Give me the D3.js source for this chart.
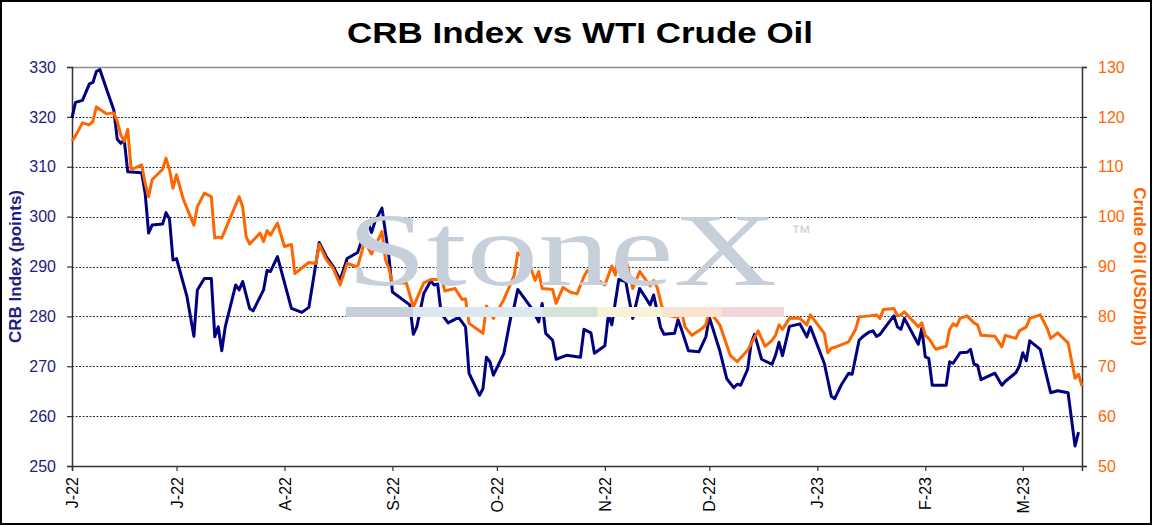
<!DOCTYPE html>
<html lang="en">
<head>
<meta charset="utf-8">
<title>CRB Index vs WTI Crude Oil</title>
<script src="https://cdnjs.cloudflare.com/ajax/libs/d3/7.8.5/d3.min.js"></script>
<style>
  body { margin: 0; background: #fff; }
  svg { display: block; font-family: "Liberation Sans", Arial, sans-serif; }
</style>
</head>
<body>
<div id="chart"></div>
<script>
  // CRB index (points)
  const crb = [
    ["2022-06-01",319.8],["2022-06-02",322.9],["2022-06-04",323.3],["2022-06-06",326.6],["2022-06-07",326.9],
    ["2022-06-08",329.1],["2022-06-09",329.5],["2022-06-11",325.4],["2022-06-13",321.4],["2022-06-14",315.5],
    ["2022-06-15",314.7],["2022-06-16",315.4],["2022-06-17",309.0],["2022-06-21",308.8],["2022-06-22",304.7],
    ["2022-06-23",296.7],["2022-06-24",298.3],["2022-06-27",298.5],["2022-06-28",300.8],["2022-06-29",299.5],
    ["2022-06-30",291.3],["2022-07-01",291.6],["2022-07-04",284.0],["2022-07-06",276.0],["2022-07-07",285.3],
    ["2022-07-09",287.6],["2022-07-11",287.6],["2022-07-12",275.9],["2022-07-13",277.9],["2022-07-14",273.1],
    ["2022-07-15",277.9],["2022-07-18",286.3],["2022-07-19",285.3],["2022-07-20",287.0],["2022-07-22",281.6],
    ["2022-07-23",281.1],["2022-07-26",285.3],["2022-07-27",289.2],["2022-07-28",289.0],["2022-07-30",292.0],
    ["2022-08-03",281.6],["2022-08-06",280.8],["2022-08-08",281.8],["2022-08-11",294.8],["2022-08-13",292.0],
    ["2022-08-15",290.0],["2022-08-17",287.3],["2022-08-19",291.6],["2022-08-22",292.8],["2022-08-25",298.8],
    ["2022-08-26",296.8],["2022-08-27",299.0],["2022-08-29",301.7],["2022-08-31",292.0],["2022-09-01",284.9],
    ["2022-09-06",282.3],["2022-09-07",276.4],["2022-09-08",277.9],["2022-09-10",284.6],["2022-09-12",287.1],
    ["2022-09-13",286.3],["2022-09-14",286.5],["2022-09-15",280.6],["2022-09-17",278.7],["2022-09-20",279.8],
    ["2022-09-22",277.9],["2022-09-23",268.6],["2022-09-26",264.2],["2022-09-27",265.5],["2022-09-28",271.8],
    ["2022-09-29",270.9],["2022-09-30",268.2],["2022-10-03",272.6],["2022-10-05",279.9],["2022-10-06",282.1],
    ["2022-10-07",285.4],["2022-10-11",281.6],["2022-10-13",278.9],["2022-10-14",282.6],["2022-10-15",276.6],
    ["2022-10-17",275.2],["2022-10-18",271.4],["2022-10-21",272.2],["2022-10-25",271.8],["2022-10-26",277.4],
    ["2022-10-28",276.7],["2022-10-29",272.6],["2022-11-01",274.1],["2022-11-02",280.3],["2022-11-03",278.3],
    ["2022-11-05",287.4],["2022-11-07",287.0],["2022-11-09",279.6],["2022-11-11",285.6],["2022-11-14",282.3],
    ["2022-11-15",284.3],["2022-11-17",277.8],["2022-11-18",276.4],["2022-11-21",276.6],["2022-11-22",279.3],
    ["2022-11-23",277.4],["2022-11-25",273.1],["2022-11-28",272.9],["2022-11-30",275.9],["2022-12-01",279.8],
    ["2022-12-04",273.1],["2022-12-06",267.5],["2022-12-08",265.7],["2022-12-09",266.4],["2022-12-10",266.2],
    ["2022-12-12",269.4],["2022-12-13",274.6],["2022-12-14",276.4],["2022-12-16",271.4],["2022-12-19",270.4],
    ["2022-12-20",272.2],["2022-12-21",274.8],["2022-12-22",272.1],["2022-12-24",278.0],["2022-12-27",278.5],
    ["2022-12-29",275.9],["2022-12-30",277.9],["2023-01-03",270.6],["2023-01-05",264.0],["2023-01-06",263.5],
    ["2023-01-08",266.4],["2023-01-10",268.6],["2023-01-11",268.4],["2023-01-13",275.2],["2023-01-14",275.9],
    ["2023-01-16",276.9],["2023-01-17",277.1],["2023-01-18",276.0],["2023-01-19",276.4],["2023-01-21",278.3],
    ["2023-01-23",280.1],["2023-01-24",277.9],["2023-01-25",277.4],["2023-01-26",279.6],["2023-01-30",274.4],
    ["2023-01-31",277.6],["2023-02-01",271.9],["2023-02-02",271.6],["2023-02-03",266.2],["2023-02-07",266.2],
    ["2023-02-08",270.9],["2023-02-09",270.6],["2023-02-11",272.7],["2023-02-13",272.8],["2023-02-14",273.4],
    ["2023-02-15",270.4],["2023-02-16",270.2],["2023-02-17",267.3],["2023-02-21",268.6],["2023-02-23",266.2],
    ["2023-02-24",267.0],["2023-02-27",268.7],["2023-02-28",270.0],["2023-03-01",272.7],["2023-03-02",271.1],
    ["2023-03-03",275.1],["2023-03-06",273.4],["2023-03-09",264.7],["2023-03-11",265.1],["2023-03-14",264.7],
    ["2023-03-16",254.0],["2023-03-17",256.8]
  ];

  // WTI crude (USD/bbl)
  const oil = [
    ["2022-06-01",115.1],["2022-06-02",116.2],["2022-06-04",118.8],["2022-06-06",118.4],["2022-06-07",119.1],
    ["2022-06-08",122.0],["2022-06-11",120.6],["2022-06-13",120.8],["2022-06-14",119.1],["2022-06-15",116.4],
    ["2022-06-16",115.1],["2022-06-17",117.5],["2022-06-18",109.4],["2022-06-21",110.4],["2022-06-22",106.7],
    ["2022-06-23",104.0],["2022-06-24",107.4],["2022-06-27",109.5],["2022-06-28",111.7],["2022-06-29",109.4],
    ["2022-06-30",105.7],["2022-07-01",108.4],["2022-07-03",103.4],["2022-07-06",98.3],["2022-07-07",102.0],
    ["2022-07-09",104.7],["2022-07-11",104.0],["2022-07-12",95.7],["2022-07-13",95.9],["2022-07-14",95.7],
    ["2022-07-19",104.0],["2022-07-20",102.0],["2022-07-21",96.0],["2022-07-22",94.5],["2022-07-25",96.7],
    ["2022-07-26",95.0],["2022-07-27",97.2],["2022-07-28",96.3],["2022-07-30",98.7],["2022-08-01",94.0],
    ["2022-08-03",94.4],["2022-08-04",88.6],["2022-08-08",90.8],["2022-08-10",90.6],["2022-08-11",94.4],
    ["2022-08-13",91.4],["2022-08-15",89.6],["2022-08-17",86.3],["2022-08-19",90.6],["2022-08-22",89.9],
    ["2022-08-24",95.0],["2022-08-26",92.5],["2022-08-29",97.0],["2022-08-30",91.4],["2022-08-31",89.6],
    ["2022-09-01",86.7],["2022-09-05",86.7],["2022-09-07",81.9],["2022-09-10",86.7],["2022-09-12",87.4],
    ["2022-09-14",87.4],["2022-09-15",88.3],["2022-09-16",85.1],["2022-09-19",85.6],["2022-09-21",83.4],
    ["2022-09-22",83.5],["2022-09-23",78.6],["2022-09-27",76.6],["2022-09-28",82.1],["2022-09-30",79.6],
    ["2022-10-03",83.4],["2022-10-05",86.6],["2022-10-06",88.3],["2022-10-07",92.7],["2022-10-10",91.0],
    ["2022-10-12",87.2],["2022-10-13",89.0],["2022-10-14",85.6],["2022-10-17",85.4],["2022-10-18",82.6],
    ["2022-10-20",85.8],["2022-10-22",84.9],["2022-10-24",84.5],["2022-10-26",88.0],["2022-10-27",89.2],
    ["2022-10-29",87.8],["2022-11-01",86.3],["2022-11-03",90.1],["2022-11-04",88.3],["2022-11-05",92.8],
    ["2022-11-07",91.6],["2022-11-09",85.6],["2022-11-11",89.0],["2022-11-14",86.1],["2022-11-15",87.2],
    ["2022-11-16",85.8],["2022-11-18",80.3],["2022-11-22",79.8],["2022-11-23",81.1],["2022-11-24",77.9],
    ["2022-11-26",76.2],["2022-11-29",77.6],["2022-11-30",78.3],["2022-12-01",81.1],["2022-12-04",78.3],
    ["2022-12-07",72.2],["2022-12-09",70.9],["2022-12-12",73.2],["2022-12-15",77.1],["2022-12-17",74.0],
    ["2022-12-19",75.2],["2022-12-20",76.2],["2022-12-21",78.3],["2022-12-22",77.4],["2022-12-24",79.6],
    ["2022-12-27",79.6],["2022-12-29",78.3],["2022-12-30",80.3],["2023-01-03",76.6],["2023-01-04",72.7],
    ["2023-01-05",73.6],["2023-01-06",73.8],["2023-01-10",74.9],["2023-01-12",77.4],["2023-01-13",79.9],
    ["2023-01-16",80.1],["2023-01-18",80.3],["2023-01-19",79.6],["2023-01-20",81.4],["2023-01-23",81.6],
    ["2023-01-24",80.1],["2023-01-25",80.3],["2023-01-26",80.9],["2023-01-28",79.4],["2023-01-30",77.9],
    ["2023-01-31",78.7],["2023-02-01",76.2],["2023-02-02",75.6],["2023-02-04",73.4],["2023-02-07",74.0],
    ["2023-02-08",77.4],["2023-02-09",78.5],["2023-02-10",78.1],["2023-02-11",79.6],["2023-02-13",80.1],
    ["2023-02-15",78.7],["2023-02-16",78.3],["2023-02-17",76.2],["2023-02-21",76.0],["2023-02-23",73.9],
    ["2023-02-24",76.2],["2023-02-27",75.6],["2023-02-28",77.1],["2023-03-02",77.9],["2023-03-03",79.6],
    ["2023-03-06",80.3],["2023-03-08",77.6],["2023-03-09",75.6],["2023-03-11",76.7],["2023-03-14",74.7],
    ["2023-03-16",67.6],["2023-03-17",68.4],["2023-03-18",66.0]
  ];

  const crbTicks = [250, 260, 270, 280, 290, 300, 310, 320, 330];
  const oilTicks = [50, 60, 70, 80, 90, 100, 110, 120, 130];
  const dateRange = ["2022-06-01", "2023-03-18"];

  const title = "CRB Index vs WTI Crude Oil";
  const leftTitle = "CRB Index (points)";
  const rightTitle = "Crude Oil (USD/bbl)";

  const width = 1157, height = 526;
  const margin = { top: 67, right: 75, bottom: 60, left: 72 };
  const chartWidth = width - margin.left - margin.right;
  const chartHeight = height - margin.top - margin.bottom;
  const navy = "#000080", orange = "#ff6600";
  const parse = d3.timeParse("%Y-%m-%d");

  let svg, x, yLeft, yRight, plot;

  function createSvg() {
    svg = d3.select("#chart").append("svg").attr("width", width).attr("height", height);
    svg.append("rect").attr("x", 1).attr("y", 1).attr("width", 1150).attr("height", 523)
      .attr("fill", "#fff").attr("stroke", "#000").attr("stroke-width", 2);
    plot = svg.append("g").attr("transform", `translate(${margin.left},${margin.top})`);
  }

  function createScales() {
    x = d3.scaleTime().domain(dateRange.map(parse)).range([0, chartWidth]);
    yLeft = d3.scaleLinear().domain([crbTicks[0], crbTicks[crbTicks.length - 1]]).range([chartHeight, 0]);
    yRight = d3.scaleLinear().domain([oilTicks[0], oilTicks[oilTicks.length - 1]]).range([chartHeight, 0]);
  }

  // StoneX watermark behind the plot
  function renderWatermark() {
    const wm = svg.append("g").attr("class", "watermark");
    const stripes = [
      [346, 413, "#c6cfda"], [413, 543, "#dce7f0"], [543, 597, "#d5e2d7"],
      [597, 663, "#f6f1d7"], [663, 722, "#f8e4cf"], [722, 784, "#f1d5d9"]
    ];
    wm.selectAll("rect").data(stripes).join("rect")
      .attr("x", d => d[0]).attr("y", 307).attr("width", d => d[1] - d[0]).attr("height", 10)
      .attr("fill", d => d[2]);
    wm.append("text").text("StoneX")
      .attr("x", 347).attr("y", 285)
      .attr("font-family", "'Liberation Serif', 'Times New Roman', serif")
      .attr("font-size", 103)
      .attr("textLength", 430).attr("lengthAdjust", "spacingAndGlyphs")
      .attr("fill", "#c6cfda");
    wm.append("text").text("\u2122")
      .attr("x", 791).attr("y", 239)
      .attr("font-size", 20)
      .attr("fill", "#c6cfda");
  }

  function renderGrid() {
    plot.append("g").selectAll("line")
      .data(crbTicks.slice(1, -1)).join("line")
      .attr("x1", 0).attr("x2", chartWidth)
      .attr("y1", d => Math.round(yLeft(d)) + 0.5).attr("y2", d => Math.round(yLeft(d)) + 0.5)
      .attr("stroke", "#333").attr("stroke-dasharray", "2,1.5").attr("stroke-width", 1);
    plot.append("line")
      .attr("x1", 0).attr("x2", chartWidth).attr("y1", 0.5).attr("y2", 0.5)
      .attr("stroke", "#8c8c8c").attr("stroke-width", 1.3);
  }

  function renderAxes() {
    const monthFmt = d3.timeFormat("%b"), yearFmt = d3.timeFormat("%y");

    const xAxis = d3.axisBottom(x).ticks(d3.timeMonth.every(1)).tickSize(5).tickFormat("");
    const gx = plot.append("g").attr("transform", `translate(0,${chartHeight})`).call(xAxis);
    gx.select(".domain").attr("stroke", "#333").attr("stroke-width", 1.5);
    gx.selectAll(".tick line").attr("stroke", "#333").attr("stroke-width", 1.2);
    gx.selectAll(".tick").append("text")
      .attr("transform", "translate(0,11) rotate(-90)")
      .attr("dy", "0.35em")
      .attr("text-anchor", "end")
      .attr("fill", "#000")
      .attr("font-size", 16)
      .text(d => monthFmt(d)[0] + "-" + yearFmt(d));

    const gl = plot.append("g").call(d3.axisLeft(yLeft).tickValues(crbTicks).tickSize(5).tickPadding(11));
    gl.select(".domain").attr("stroke", "#333").attr("stroke-width", 1.5);
    gl.selectAll(".tick line").attr("stroke", "#333").attr("stroke-width", 1.2);
    gl.selectAll(".tick text").attr("fill", "#1c1c8a").attr("font-size", 16).attr("font-family", null);

    const gr = plot.append("g").attr("transform", `translate(${chartWidth},0)`)
      .call(d3.axisRight(yRight).tickValues(oilTicks).tickSize(5).tickPadding(11));
    gr.select(".domain").attr("stroke", "#333").attr("stroke-width", 1.5);
    gr.selectAll(".tick line").attr("stroke", "#333").attr("stroke-width", 1.2);
    gr.selectAll(".tick text").attr("fill", orange).attr("font-size", 16).attr("font-family", null);
  }

  function renderLines() {
    const crbLine = d3.line().x(d => x(parse(d[0]))).y(d => yLeft(d[1]));
    const oilLine = d3.line().x(d => x(parse(d[0]))).y(d => yRight(d[1]));
    plot.append("path").datum(crb).attr("d", crbLine)
      .attr("fill", "none").attr("stroke", navy).attr("stroke-width", 3)
      .attr("stroke-linejoin", "round");
    plot.append("path").datum(oil).attr("d", oilLine)
      .attr("fill", "none").attr("stroke", orange).attr("stroke-width", 3)
      .attr("stroke-linejoin", "round");
  }

  function renderTitles() {
    svg.append("text").text(title)
      .attr("x", 580).attr("y", 43)
      .attr("text-anchor", "middle")
      .attr("font-size", 29).attr("font-weight", "bold")
      .attr("textLength", 466).attr("lengthAdjust", "spacingAndGlyphs");
    svg.append("text").text(leftTitle)
      .attr("transform", `translate(20.5,${margin.top + chartHeight / 2}) rotate(-90)`)
      .attr("text-anchor", "middle")
      .attr("font-size", 17).attr("font-weight", "bold")
      .attr("fill", "#1c1c8a");
    svg.append("text").text(rightTitle)
      .attr("transform", `translate(1134,${margin.top + chartHeight / 2}) rotate(90)`)
      .attr("text-anchor", "middle")
      .attr("font-size", 17).attr("font-weight", "bold")
      .attr("fill", orange);
  }

  function init() {
    createSvg();
    createScales();
    renderWatermark();
    renderGrid();
    renderAxes();
    renderLines();
    renderTitles();
  }

  init();
</script>
</body>
</html>
